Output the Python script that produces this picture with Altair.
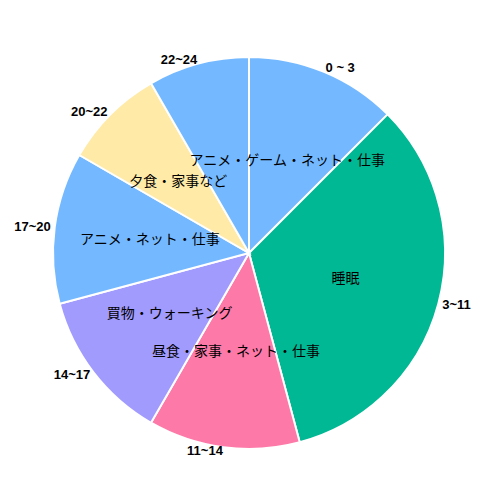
import altair as alt
import pandas as pd

ranges = ["0 ~ 3", "3~11", "11~14", "14~17", "17~20", "20~22", "22~24"]
hours = [3, 8, 3, 3, 3, 2, 2]
activities = ["アニメ・ゲーム・ネット・仕事", "睡眠", "昼食・家事・ネット・仕事",
              "買物・ウォーキング", "アニメ・ネット・仕事", "夕食・家事など", ""]
colors = ["#74b9ff", "#00b894", "#fd79a8", "#a29bfe", "#74b9ff", "#ffeaa7", "#74b9ff"]

df = pd.DataFrame({
    "idx": list(range(len(ranges))),
    "range": ranges,
    "hours": hours,
    "activity": activities,
    "color": colors,
})

base = alt.Chart(df).encode(
    theta=alt.Theta("hours:Q", stack=True),
    order=alt.Order("idx:Q"),
)

arcs = base.mark_arc(outerRadius=196, stroke="white", strokeWidth=2).encode(
    color=alt.Color("color:N", scale=None)
)

inner = base.mark_text(radius=100, fontSize=14, font="Noto Sans CJK JP", color="black").encode(
    text="activity:N"
)

theta_scale = alt.Scale(domain=[0, 24], range=[0, 6.283185307179586])

outer_base = alt.Chart(df).transform_window(
    cum="sum(hours)", sort=[{"field": "idx"}], frame=[None, 0]
).transform_calculate(
    mid="datum.cum - datum.hours / 2"
)

outer_right = outer_base.transform_filter("datum.mid < 12").mark_text(
    radius=200, fontSize=13, fontWeight="bold", font="Liberation Sans",
    color="black", align="left", baseline="middle"
).encode(
    theta=alt.Theta("mid:Q", scale=theta_scale),
    text="range:N",
)

outer_left = outer_base.transform_filter("datum.mid >= 12").mark_text(
    radius=200, fontSize=13, fontWeight="bold", font="Liberation Sans",
    color="black", align="right", baseline="middle"
).encode(
    theta=alt.Theta("mid:Q", scale=theta_scale),
    text="range:N",
)

chart = alt.layer(arcs, inner, outer_right, outer_left).resolve_scale(
    theta="independent"
).properties(
    width=482,
    height=470,
    autosize=alt.AutoSizeParams(type="none"),
    padding={"left": 0, "top": 10, "right": 0, "bottom": 0},
).configure_view(stroke=None)

chart.save("out.html", embed_options={"renderer": "svg", "actions": False})
